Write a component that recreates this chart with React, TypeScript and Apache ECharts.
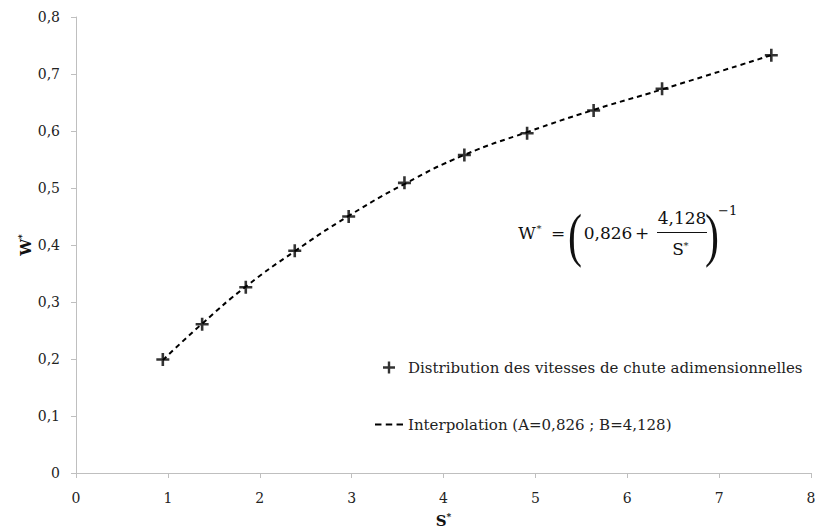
import React, { useEffect, useRef } from "react";
import * as echarts from "echarts";

const sValues = [0.945, 1.373, 1.848, 2.381, 2.968, 3.575, 4.227, 4.91, 5.634, 6.379, 7.568];
const wValues = [0.199, 0.261, 0.326, 0.39, 0.45, 0.509, 0.558, 0.596, 0.636, 0.674, 0.733];
const fitValues = [0.198, 0.262, 0.327, 0.389, 0.451, 0.507, 0.558, 0.598, 0.637, 0.673, 0.733];

const pointsName = "Distribution des vitesses de chute adimensionnelles";
const fitName = "Interpolation (A=0,826 ; B=4,128)";

const FONT = "DejaVu Serif";
const PAREN_FONT = "Liberation Serif";
const plusPath = "path://M0,4.8H4.8V0H7.2V4.8H12V7.2H7.2V12H4.8V7.2H0Z";
const dashPath = "path://M0,0H6V2H0Z M10,0H16V2H10Z M20,0H26V2H20Z";

export default function App() {
  const ref = useRef<HTMLDivElement>(null);
  useEffect(() => {
    if (!ref.current) return;
    const chart = echarts.init(ref.current, null, { renderer: "svg" });
    const fmt = (v: number) => String(Math.round(v * 10) / 10).replace(".", ",");
    const axisCommon = {
      axisLine: { show: true, lineStyle: { color: "#bfbfbf", width: 1 } },
      axisTick: { show: true, length: 5, lineStyle: { color: "#bfbfbf" } },
      splitLine: { show: false },
    };
    const nameRich = {
      b: { fontFamily: FONT, fontWeight: "bold", fontSize: 15, color: "#111" },
      s: { fontFamily: FONT, fontWeight: "bold", fontSize: 9, color: "#111", verticalAlign: "top", padding: [0, 0, 8, 0] },
    };
    const txt = (text: string, x: number, y: number, size = 17, align = "center", family = FONT) => ({
      type: "text",
      style: { text, x, y, fontFamily: family, fontSize: size, fill: "#111", textAlign: align, textVerticalAlign: "middle" },
    });
    chart.setOption({
      animation: false,
      backgroundColor: "#ffffff",
      grid: { left: 76, right: 4, top: 17, bottom: 58, outerBoundsMode: "none", containLabel: false },
      xAxis: {
        type: "value",
        min: 0,
        max: 8,
        interval: 1,
        ...axisCommon,
        axisLabel: { margin: 18, fontSize: 14, color: "#222", fontFamily: FONT, formatter: fmt },
        name: "{b|S}{s|*}",
        nameLocation: "middle",
        nameMoveOverlap: false,
        nameGap: 39,
        nameTextStyle: { rich: nameRich },
      },
      yAxis: {
        type: "value",
        min: 0,
        max: 0.8,
        interval: 0.1,
        ...axisCommon,
        axisLabel: { margin: 16, fontSize: 14, color: "#222", fontFamily: FONT, formatter: fmt },
        name: "{b|W}{s|*}",
        nameLocation: "middle",
        nameRotate: 90,
        nameMoveOverlap: false,
        nameGap: 42,
        nameTextStyle: { rich: nameRich },
      },
      legend: {
        orient: "vertical",
        left: 370,
        top: 355,
        itemWidth: 28,
        itemHeight: 12,
        itemGap: 42,
        textStyle: { fontFamily: FONT, fontSize: 15, color: "#222" },
        data: [
          { name: pointsName, icon: plusPath, itemStyle: { color: "#000" } },
          { name: fitName, icon: dashPath, itemStyle: { color: "#000" } },
        ],
      },
      series: [
        {
          name: fitName,
          type: "line",
          smooth: true,
          symbol: "none",
          showSymbol: false,
          data: sValues.map((s, i) => [s, fitValues[i]]),
          lineStyle: { color: "#000", width: 2, type: [5, 4] },
          itemStyle: { color: "#000" },
          z: 2,
        },
        {
          name: pointsName,
          type: "scatter",
          symbol: plusPath,
          symbolSize: 13,
          data: sValues.map((s, i) => [s, wValues[i]]),
          itemStyle: { color: "#000" },
          z: 3,
        },
      ],
      graphic: [
        {
          type: "group",
          children: [
            txt("W", 527, 233),
            txt("*", 539, 228, 10),
            txt("=", 558, 233),
            { type: "text", scaleX: 0.7, x: 575, style: { text: "(", x: 0, y: 235, fontFamily: PAREN_FONT, fontSize: 60, fill: "#111", textAlign: "center", textVerticalAlign: "middle" } },
            txt("0,826", 608, 233),
            txt("+", 642, 233),
            txt("4,128", 682, 218),
            { type: "line", shape: { x1: 657, y1: 232.5, x2: 707, y2: 232.5 }, style: { stroke: "#111", lineWidth: 1 } },
            txt("S", 678, 249),
            txt("*", 686, 245, 10),
            { type: "text", scaleX: 0.7, x: 712, style: { text: ")", x: 0, y: 235, fontFamily: PAREN_FONT, fontSize: 60, fill: "#111", textAlign: "center", textVerticalAlign: "middle" } },
            txt("−1", 718, 210, 13, "left"),
          ],
        },
      ],
    });
    return () => chart.dispose();
  }, []);
  return (
    <div
      ref={ref}
      style={{ position: "fixed", left: 0, top: 0, width: 815, height: 531, background: "#fff" }}
    />
  );
}
